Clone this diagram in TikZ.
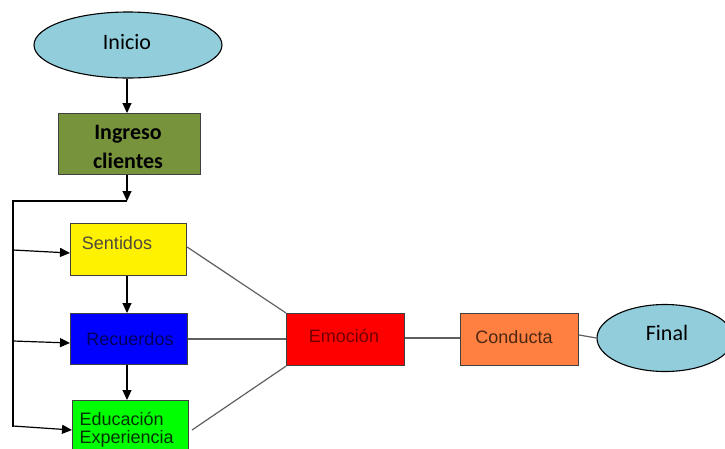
\documentclass[tikz,border=0pt]{standalone}
\usepackage{fontspec}
\setmainfont{Liberation Sans}
\newfontfamily\calib{Carlito}
\usetikzlibrary{shapes.geometric,arrows.meta}

\definecolor{skyfill}{RGB}{146,205,220}
\definecolor{olivefill}{RGB}{119,147,60}
\definecolor{orangefill}{RGB}{255,128,64}
\definecolor{linkgray}{RGB}{95,95,95}

\tikzset{
  oval/.style={ellipse, draw=black, line width=1.1pt, fill=skyfill,
    font=\calib\fontsize{22}{26}\selectfont, inner sep=0pt},
  box/.style={draw=black!75, line width=1.1pt, inner sep=0pt, anchor=north west},
  flow/.style={-{Triangle[length=10pt,width=9pt]}, line width=1.2pt, black},
  plain/.style={line width=1.2pt, black},
  link/.style={line width=1.2pt, linkgray},
  lbl/.style={font=\fontsize{18}{21}\selectfont}
}

\begin{document}
\begin{tikzpicture}[x=1pt,y=-1pt]
  \useasboundingbox (0,0) rectangle (725,448);
  \clip (0,0) rectangle (725,448);

  % start and end ovals
  \node[oval, minimum width=188pt, minimum height=66pt] (inicio) at (128,45) {};
  \node[font=\calib\fontsize{22}{26}\selectfont] at (127,42) {Inicio};
  \node[oval, minimum width=136pt, minimum height=67pt] (final) at (665,338) {};
  \node[font=\calib\fontsize{22}{26}\selectfont] at (667,333) {Final};

  % customer entry
  \node[box, fill=olivefill, minimum width=142pt, minimum height=61pt] (ingreso) at (58,113) {};
  \node[align=center, font=\calib\bfseries\fontsize{22}{29}\selectfont] at (128,147) {Ingreso\\clientes};

  % perception boxes
  \node[box, fill=yellow, minimum width=116pt, minimum height=52pt] (sentidos) at (70,223) {};
  \node[lbl, text=black!80!yellow] at (117,243) {Sentidos};
  \node[box, fill=blue, minimum width=117pt, minimum height=51pt] (recuerdos) at (70,313) {};
  \node[lbl, text=blue!35!black] at (130,339) {Recuerdos};
  \node[box, fill=green, minimum width=116pt, minimum height=60pt] (educacion) at (72,400) {};
  \node[lbl, anchor=west, text=green!20!black] at (76,419) {Educación};
  \node[lbl, anchor=west, text=green!20!black] at (76,439) {Experiencia};

  % emotion and behaviour
  \node[box, fill=red, minimum width=118pt, minimum height=52pt] (emocion) at (286,313) {};
  \node[lbl, text=red!45!black] at (344,336) {Emoción};
  \node[box, fill=orangefill, minimum width=118pt, minimum height=52pt] (conducta) at (460,313) {};
  \node[lbl, text=orangefill!30!black] at (514,337) {Conducta};

  % top flow
  \draw[flow] (inicio.south -| 127,0) -- (ingreso.north -| 127,0);
  \coordinate (join) at (127,201);
  \coordinate (rail) at (13,201);
  \coordinate (railend) at (13,427);
  \draw[flow] (ingreso.south -| 127,0) -- (join);
  \draw[plain] (join) -- (rail) -- (railend);

  % feeds from the rail
  \coordinate (fs) at (13,250);
  \coordinate (fr) at (13,341);
  \coordinate (fe) at (13,426);
  \draw[flow] (fs) -- (sentidos.west |- 0,253);
  \draw[flow] (fr) -- (recuerdos.west |- 0,343);
  \draw[flow] (fe) -- (educacion.west |- 0,430);

  % vertical chain
  \draw[flow] (sentidos.south -| 127,0) -- (recuerdos.north -| 127,0);
  \draw[flow] (recuerdos.south -| 127,0) -- (educacion.north -| 127,0);

  % links into emotion
  \draw[link] (sentidos.east |- 0,247) -- (emocion.north west);
  \draw[link] (recuerdos.east |- 0,339) -- (emocion.west |- 0,339);
  \draw[link] (192,430) -- (emocion.south west);
  \draw[link] (emocion.east |- 0,338) -- (conducta.west |- 0,338);
  \draw[link] (conducta.east |- 0,335) -- (final.west);
\end{tikzpicture}
\end{document}
